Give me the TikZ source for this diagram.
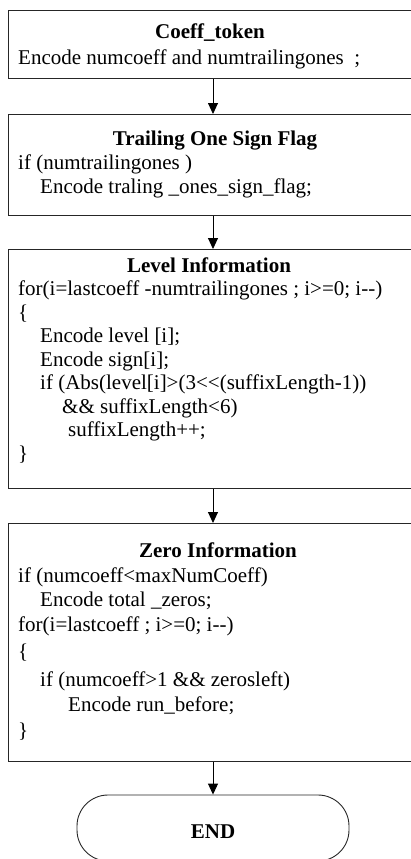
\documentclass[tikz,border=0pt]{standalone}
\usepackage{fontspec}
\setmainfont{Liberation Serif}
\usetikzlibrary{arrows.meta}
\tikzset{
  stagebox/.style={draw=black!85, line width=0.9pt, rectangle, inner sep=0pt, anchor=north west},
  endbox/.style={draw=black!85, line width=0.9pt, rectangle, rounded corners=31pt, inner sep=0pt,
                 minimum width=272pt, minimum height=66pt},
  codeline/.style={inner sep=0pt, anchor=base west, font=\fontsize{21}{23.5}\selectfont},
  headline/.style={inner sep=0pt, anchor=base, font=\fontsize{21}{23.5}\selectfont\bfseries},
  flow/.style={draw=black, line width=0.9pt, -{Triangle[length=11pt,width=10pt]}}
}
\begin{document}
\begin{tikzpicture}[x=1pt,y=-1pt]
\useasboundingbox (0,0) rectangle (411,859);

% stage boxes
\node[stagebox, minimum width=410pt, minimum height=68pt]  (coeff) at (8,10)  {};
\node[stagebox, minimum width=410pt, minimum height=101pt] (sign)  at (8,114) {};
\node[stagebox, minimum width=410pt, minimum height=239pt] (level) at (8,249) {};
\node[stagebox, minimum width=410pt, minimum height=238pt] (zero)  at (8,523) {};
\node[endbox] (fin) at (213,828) {};
\node[headline] (finT) at (213,838) {END};

% Coeff_token
\node[headline] (h1) at (210,39) {Coeff\_token};
\node[codeline] (c1a) at (18,65) {Encode numcoeff and numtrailingones\ \ ;};

% Trailing one sign flag
\node[headline] (h2) at (215,145) {Trailing One Sign Flag};
\node[codeline] (c2a) at (18,169) {if (numtrailingones )};
\node[codeline] (c2b) at (40,193) {Encode traling \_ones\_sign\_flag;};

% Level information
\node[headline] (h3) at (209,272) {Level Information};
\node[codeline] (c3a) at (18,295.5) {for(i=lastcoeff -numtrailingones ; i>=0; i-{}-)};
\node[codeline] (c3b) at (18,319) {\{};
\node[codeline] (c3c) at (40,342.5) {Encode level [i];};
\node[codeline] (c3d) at (40,366) {Encode sign[i];};
\node[codeline] (c3e) at (40,389.5) {if (Abs(level[i]>(3<{}<(suffixLength-1))};
\node[codeline] (c3f) at (62,413) {\&\& suffixLength<6)};
\node[codeline] (c3g) at (68,436.5) {suffixLength++;};
\node[codeline] (c3h) at (18,460) {\}};

% Zero information
\node[headline] (h4) at (218,557) {Zero Information};
\node[codeline] (c4a) at (18,582) {if (numcoeff<maxNumCoeff)};
\node[codeline] (c4b) at (40,606.5) {Encode total \_zeros;};
\node[codeline] (c4c) at (18,631) {for(i=lastcoeff ; i>=0; i-{}-)};
\node[codeline] (c4d) at (18,658) {\{};
\node[codeline] (c4e) at (40,686) {if (numcoeff>1 \&\& zerosleft)};
\node[codeline] (c4f) at (68,711) {Encode run\_before;};
\node[codeline] (c4g) at (18,737) {\}};

% connectors
\draw[flow] (coeff.south west -| fin.north) -- (sign.north west -| fin.north);
\draw[flow] (sign.south west -| fin.north)  -- (level.north west -| fin.north);
\draw[flow] (level.south west -| fin.north) -- (zero.north west -| fin.north);
\draw[flow] (zero.south west -| fin.north)  -- (fin.north);
\end{tikzpicture}
\end{document}
